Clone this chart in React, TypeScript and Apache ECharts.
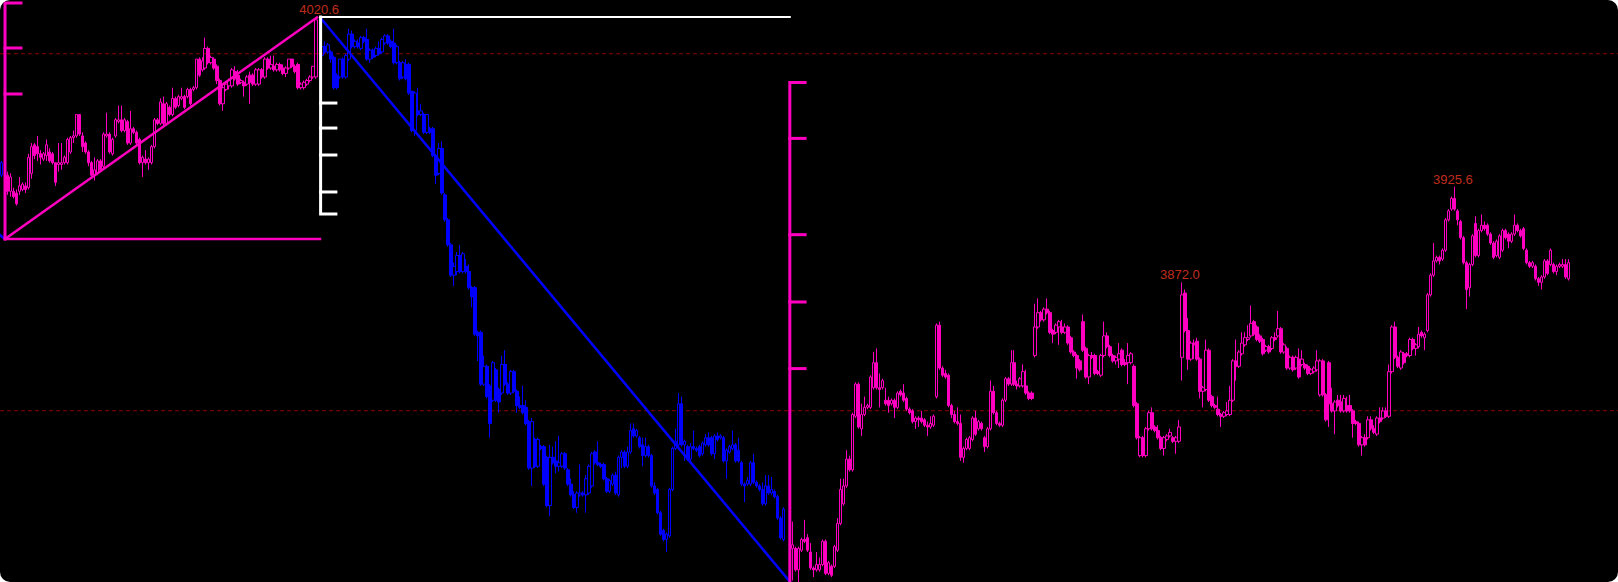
import React, { useEffect, useRef } from "react";
import * as echarts from "echarts";

// Candles are [open, close, low, high].
const tailCandles = [[3932, 3939, 3931, 3940]];

const leftCandles = [
[3932,3923,3921,3934],[3923,3931,3920,3933],[3923,3920,3919,3925],[3922,3916,3915,3924],[3923,3926,3921,3931],[3924,3927,3923,3928],[3926,3924,3922,3928],[3925,3942,3924,3944],
[3933,3948,3930,3950],[3949,3943,3941,3950],[3948,3944,3940,3954],[3944,3942,3938,3946],[3941,3944,3940,3945],[3943,3949,3940,3952],[3945,3940,3939,3947],[3944,3939,3938,3945],
[3939,3928,3926,3939],[3938,3939,3934,3950],[3938,3939,3935,3950],[3939,3942,3938,3943],[3939,3952,3938,3953],[3945,3953,3944,3954],[3953,3954,3950,3957],[3954,3966,3953,3966],
[3966,3955,3954,3966],[3954,3948,3945,3956],[3950,3945,3944,3951],[3945,3939,3937,3946],[3939,3932,3930,3940],[3932,3935,3929,3942],[3933,3940,3932,3941],[3940,3935,3934,3941],
[3937,3955,3936,3956],[3954,3955,3953,3967],[3955,3945,3944,3956],[3944,3952,3943,3953],[3954,3963,3953,3964],[3962,3963,3961,3971],[3963,3957,3956,3971],[3957,3963,3956,3964],
[3962,3950,3949,3963],[3950,3958,3949,3968],[3958,3956,3955,3959],[3956,3950,3949,3957],[3952,3939,3938,3953],[3939,3942,3931,3943],[3941,3939,3938,3946],[3939,3941,3935,3942],
[3939,3948,3938,3949],[3948,3963,3947,3964],[3963,3961,3960,3964],[3961,3973,3960,3975],[3972,3961,3960,3976],[3961,3972,3960,3973],[3970,3966,3965,3971],[3966,3975,3965,3981],
[3975,3970,3969,3976],[3971,3976,3970,3977],[3975,3976,3974,3981],[3976,3970,3969,3977],[3976,3980,3975,3981],[3980,3972,3971,3981],[3980,3981,3979,3982],[3981,3997,3980,3997],
[3997,3988,3987,3998],[3991,3996,3990,3998],[3992,4003,3991,4009],[4003,3995,3994,4004],[3995,3998,3994,3999],[3997,3992,3991,3998],[3993,3985,3983,3994],[3985,3972,3971,3986],
[3972,3981,3968,3982],[3980,3983,3979,3984],[3982,3985,3980,3986],[3982,3991,3981,3992],[3990,3986,3985,3993],[3988,3983,3982,3991],[3984,3985,3983,3986],[3984,3982,3976,3985],
[3983,3987,3982,3988],[3988,3984,3972,3990],[3988,3983,3982,3989],[3983,3991,3982,3992],[3983,3991,3982,3992],[3991,3987,3986,3992],[3987,3997,3986,3998],[3997,3992,3991,3998],
[3992,3994,3991,3999],[3993,3991,3990,3999],[3991,3994,3990,3995],[3994,3991,3990,3995],[3992,3989,3988,3994],[3989,3992,3987,3993],[3992,3997,3991,3997],[3997,3993,3992,3997],
[3993,3990,3989,3994],[3994,3981,3980,3995],[3981,3983,3980,3984],[3981,3984,3980,3985],[3983,3985,3982,3986],[3985,3987,3984,3988],[3987,3993,3986,3993],[3987,4019,3986,4020.6],
];

const blueCandles = [
[3999,4004,3999,4008],[4004,4001,4000,4007],[4001,4005,4000,4006],[4001,3997,3995,4002],[3998,3981,3980,3999],[3988,3981,3980,3989],[3987,3997,3986,3997],[3997,3987,3986,3998],
[3987,3999,3986,4000],[3997,4011,3996,4014],[4011,4004,4003,4013],[4004,4007,4003,4008],[4006,4004,4003,4008],[4003,4009,4002,4010],[4009,4007,4006,4010],[4008,3997,3996,4014],
[3997,4002,3995,4003],[4002,3998,3997,4003],[3999,4003,3998,4004],[4003,4000,3999,4007],[4001,4008,4000,4009],[4006,4010,4005,4011],[4010,4006,4005,4011],[4007,4004,4003,4008],
[4006,3995,3994,4014],[3995,4004,3994,4005],[3995,3986,3985,3996],[3987,3995,3986,3996],[3994,3986,3985,3997],[3994,3978,3977,3995],[3979,3957,3956,3979],[3957,3978,3954,3979],
[3968,3966,3965,3981],[3966,3968,3965,3972],[3966,3956,3955,3967],[3956,3966,3955,3966],[3958,3956,3955,3959],[3958,3943,3942,3959],[3943,3932,3927,3944],[3933,3947,3932,3950],
[3947,3922,3921,3951],[3921,3907,3906,3922],
[3907,3893,3892,3908],[3893,3876,3875,3894],[3876,3881,3870,3883],[3878,3887,3876,3889],[3887,3878,3877,3893],[3878,3888,3877,3889],[3881,3878,3877,3885],[3878,3869,3868,3882],
[3869,3864,3858,3870],[3869,3843,3842,3870],[3844,3842,3828,3845],[3844,3815,3814,3845],[3815,3825,3814,3831],[3825,3808,3807,3826],[3814,3793,3785,3815],[3806,3827,3805,3828],
[3823,3806,3805,3824],[3812,3805,3799,3813],[3810,3826,3809,3831],[3826,3815,3814,3834],[3815,3810,3809,3816],[3810,3822,3809,3823],[3822,3811,3810,3823],[3811,3803,3799,3812],
[3803,3802,3801,3808],[3803,3799,3798,3814],[3802,3793,3792,3806],[3794,3768,3767,3795],[3768,3794,3758,3796],[3784,3769,3768,3785],[3769,3784,3768,3785],[3780,3779,3778,3781],
[3780,3759,3758,3781],[3774,3747,3746,3775],[3747,3774,3741,3781],[3774,3771,3770,3780],[3772,3769,3765,3783],[3769,3771,3766,3786],[3769,3776,3768,3777],[3776,3768,3767,3777],
[3767,3759,3758,3768],[3759,3753,3752,3762],[3753,3746,3745,3755],[3746,3754,3743,3755],[3753,3754,3752,3770],[3754,3753,3752,3755],[3753,3762,3743,3764],[3754,3769,3753,3770],
[3758,3776,3757,3777],[3777,3771,3770,3778],[3771,3770,3769,3783],[3770,3769,3768,3771],[3770,3762,3761,3771],[3762,3755,3754,3763],[3755,3761,3754,3762],[3759,3764,3758,3765],
[3764,3754,3753,3766],[3753,3774,3752,3775],[3774,3777,3768,3778],[3777,3769,3768,3778],[3769,3777,3768,3780],[3777,3789,3776,3793],[3790,3786,3785,3793],[3786,3789,3785,3790],
[3785,3780,3779,3786],[3781,3775,3769,3785],[3775,3780,3774,3785],[3780,3775,3774,3781],[3775,3758,3757,3776],[3758,3754,3753,3760],[3756,3743,3742,3757],[3743,3731,3730,3744],
[3733,3728,3727,3734],[3728,3731,3721,3732],[3730,3756,3729,3757],[3756,3779,3755,3780],[3779,3783,3778,3790],[3781,3804,3780,3810],[3804,3781,3780,3808],[3781,3783,3772,3784],
[3780,3773,3772,3781],[3773,3780,3772,3782],[3780,3779,3778,3789],[3779,3778,3777,3780],[3780,3775,3774,3781],[3776,3782,3775,3783],[3781,3785,3780,3787],[3785,3781,3780,3788],
[3785,3776,3775,3786],[3776,3786,3773,3787],[3786,3784,3783,3788],[3785,3786,3784,3787],[3785,3772,3771,3786],[3772,3778,3762,3779],[3777,3780,3776,3781],[3779,3781,3778,3789],
[3781,3772,3771,3782],[3778,3772,3771,3785],[3771,3759,3758,3772],[3759,3758,3749,3760],[3759,3761,3758,3763],[3759,3771,3758,3772],[3771,3760,3759,3776],[3760,3758,3757,3761],
[3758,3756,3755,3759],[3756,3748,3747,3760],[3748,3758,3747,3764],[3758,3754,3753,3764],[3754,3756,3753,3763],[3755,3752,3751,3756],[3752,3740,3739,3753],[3740,3729,3728,3741],
[3728,3745,3727,3746],
];

const rightCandles = [
[3723,3725,3705,3738],[3723,3711,3710,3724],[3711,3723,3704,3724],[3722,3728,3721,3729],[3728,3727,3726,3739],[3729,3722,3721,3731],[3721,3712,3711,3726],[3712,3711,3707,3713],
[3711,3714,3710,3721],[3711,3714,3710,3718],[3714,3727,3713,3728],[3727,3709,3708,3728],[3709,3715,3708,3716],[3713,3708,3707,3714],[3713,3724,3712,3725],[3722,3737,3721,3740],
[3737,3756,3736,3762],[3748,3758,3747,3762],[3758,3773,3757,3778],[3773,3767,3766,3775],[3767,3798,3766,3799],[3797,3815,3796,3816],[3815,3791,3790,3816],[3790,3798,3786,3804],
[3798,3802,3797,3808],[3802,3803,3801,3804],[3802,3819,3801,3820],[3813,3827,3812,3833],[3827,3813,3812,3835],[3813,3812,3802,3821],[3813,3817,3812,3818],[3806,3804,3803,3813],
[3806,3803,3799,3808],[3804,3806,3803,3807],[3806,3802,3796,3807],[3802,3810,3801,3811],[3811,3809,3808,3812],[3810,3806,3805,3815],[3807,3801,3800,3808],[3801,3799,3798,3802],
[3800,3794,3793,3801],[3794,3796,3790,3797],[3796,3795,3791,3797],[3796,3794,3793,3800],[3795,3792,3791,3796],[3792,3791,3786,3794],[3791,3793,3790,3797],[3792,3797,3791,3798],
[3808,3848,3807,3849],[3848,3824,3823,3850],[3824,3820,3819,3825],[3821,3819,3818,3823],[3820,3803,3802,3821],[3803,3798,3796,3804],[3798,3794,3793,3800],[3794,3793,3792,3802],
[3793,3774,3772,3798],[3774,3779,3771,3780],[3779,3784,3778,3785],[3779,3785,3778,3786],[3784,3796,3783,3797],[3796,3787,3786,3800],[3790,3794,3789,3795],[3793,3790,3789,3794],
[3785,3780,3777,3786],[3780,3790,3779,3791],[3790,3811,3789,3817],[3811,3799,3798,3814],[3799,3793,3792,3800],[3793,3792,3791,3794],[3792,3806,3791,3807],[3806,3818,3805,3819],
[3818,3815,3814,3819],[3815,3827,3814,3834],[3827,3815,3814,3834],[3815,3814,3812,3817],[3814,3818,3813,3819],[3814,3822,3813,3826],[3814,3810,3809,3823],[3810,3807,3806,3811],
[3810,3807,3806,3811],[3831,3847,3830,3860],[3847,3855,3846,3863],[3855,3851,3850,3856],[3851,3857,3850,3858],[3857,3855,3854,3863],[3855,3844,3843,3856],[3845,3843,3838,3846],
[3844,3848,3843,3849],[3847,3850,3837,3851],[3847,3844,3843,3851],[3844,3847,3843,3849],[3847,3838,3837,3848],[3841,3833,3832,3842],[3833,3831,3830,3834],[3831,3824,3818,3832],
[3828,3823,3822,3829],[3850,3834,3833,3854],[3835,3819,3818,3836],[3819,3831,3815,3832],[3831,3830,3829,3833],[3831,3821,3820,3832],[3822,3821,3820,3823],[3820,3831,3819,3832],
[3831,3842,3830,3850],[3842,3836,3835,3844],[3836,3831,3830,3837],[3831,3828,3827,3832],[3828,3830,3826,3831],[3829,3832,3824,3838],[3834,3826,3825,3835],[3827,3826,3825,3829],
[3827,3831,3815,3838],[3827,3832,3826,3833],[3825,3803,3802,3826],[3804,3785,3784,3805],[3775,3785,3774,3786],[3785,3775,3774,3786],[3775,3790,3774,3791],[3790,3799,3789,3800],
[3799,3790,3789,3802],[3791,3789,3788,3792],[3789,3785,3784,3792],[3785,3779,3778,3786],[3779,3785,3775,3786],[3784,3786,3783,3787],[3786,3788,3785,3790],[3785,3783,3782,3786],
[3783,3785,3776,3786],[3783,3791,3782,3795],
[3830,3865,3817,3872],[3866,3845,3844,3868],[3845,3829,3823,3852],[3829,3838,3828,3839],[3838,3837,3829,3840],[3839,3829,3828,3841],[3829,3811,3807,3830],[3811,3813,3802,3814],
[3812,3834,3811,3840],[3834,3806,3805,3835],[3808,3803,3802,3809],[3803,3802,3801,3804],[3801,3798,3797,3808],[3798,3797,3791,3799],[3797,3799,3796,3800],[3798,3800,3797,3805],
[3798,3806,3797,3814],[3806,3828,3805,3829],[3828,3825,3817,3840],[3825,3833,3824,3834],[3832,3838,3831,3844],[3837,3841,3836,3844],[3840,3841,3839,3848],[3842,3849,3841,3859],
[3850,3843,3842,3851],[3847,3840,3839,3848],[3842,3839,3838,3843],[3840,3832,3831,3841],[3834,3836,3833,3837],[3836,3833,3832,3837],[3835,3841,3834,3842],[3841,3840,3839,3844],
[3842,3846,3841,3856],[3846,3833,3832,3847],[3833,3837,3832,3838],[3835,3824,3823,3836],[3824,3830,3823,3831],[3830,3823,3822,3831],[3824,3830,3823,3831],[3829,3819,3818,3835],
[3826,3829,3825,3834],[3826,3824,3823,3827],[3825,3821,3820,3826],[3821,3823,3820,3824],[3822,3824,3821,3825],[3823,3828,3822,3834],[3809,3828,3808,3829],[3828,3809,3808,3829],
[3809,3795,3794,3810],[3827,3804,3791,3828],[3804,3800,3799,3813],[3800,3805,3787,3806],[3806,3803,3802,3809],[3805,3800,3799,3809],[3800,3807,3799,3809],[3803,3800,3799,3808],
[3803,3800,3799,3809],[3800,3793,3785,3801],[3794,3793,3792,3795],[3793,3781,3780,3794],[3781,3785,3775,3786],[3785,3781,3780,3787],[3785,3795,3784,3797],[3795,3790,3789,3797],
[3790,3788,3787,3792],[3787,3796,3786,3797],[3796,3794,3793,3802],[3796,3800,3795,3802],[3800,3797,3796,3802],[3797,3822,3796,3826],[3822,3847,3821,3848],[3847,3830,3829,3850],
[3830,3825,3824,3831],[3824,3833,3823,3834],[3832,3827,3826,3833],[3832,3831,3830,3833],[3831,3840,3830,3841],[3840,3835,3834,3841],[3835,3837,3831,3838],[3836,3843,3835,3847],
[3844,3842,3841,3845],[3841,3843,3834,3844],[3845,3865,3844,3866],[3865,3876,3864,3877],[3876,3884,3875,3894],[3884,3886,3883,3887],[3886,3884,3882,3887],[3885,3890,3884,3891],
[3890,3907,3889,3908],[3907,3912,3906,3913],[3913,3919,3912,3920],[3919,3913,3912,3925.6],[3912,3907,3904,3913],[3906,3897,3896,3907],[3897,3883,3882,3898],[3883,3868,3857,3884],
[3869,3882,3864,3883],[3882,3898,3881,3899],[3905,3887,3886,3909],[3887,3901,3886,3902],[3901,3904,3900,3910],[3904,3902,3901,3906],[3904,3899,3898,3905],[3899,3894,3893,3900],
[3894,3886,3885,3895],[3887,3895,3886,3896],[3886,3898,3885,3899],[3890,3901,3889,3902],[3901,3897,3896,3902],[3899,3895,3891,3900],[3895,3899,3894,3900],[3899,3904,3898,3910],
[3904,3901,3900,3905],[3901,3898,3897,3902],[3902,3891,3890,3903],[3890,3883,3882,3891],[3883,3881,3880,3884],[3881,3883,3880,3884],[3881,3874,3873,3882],[3874,3872,3870,3875],
[3872,3875,3868,3876],[3875,3884,3874,3885],[3884,3877,3876,3885],[3882,3890,3881,3891],[3882,3878,3877,3883],[3878,3881,3876,3882],[3881,3882,3880,3883],[3881,3882,3880,3885],
[3882,3875,3874,3885],[3874,3883,3873,3885],
];

// Where each run of candles begins, counted in candles from the left edge.
const slots = 540;
const tailStart = 0;
const leftStart = 2;
const blueStart = 107;
const rightStart = 264;

const peakLabels = [
  [106.5, 4020.6],
  [393.8, 3872.0],
  [484.9, 3925.6],
];

const dashedLevels = [4000.0, 3800.1];
const priceMin = 3704.2;
const priceMax = 4030.1;

// Trend lines and scale frames: [candle position, price].
const pinkFrames = [
  [[7, 4028.4], [1.67, 4028.4], [1.67, 3896.3]],
  [[1.67, 4003.2], [7, 4003.2]],
  [[1.67, 3977.5], [7, 3977.5]],
  [[268.7, 3983.9], [263.6, 3983.9], [263.6, 3704.2]],
  [[263.6, 3952.6], [268.7, 3952.6]],
  [[263.6, 3898.7], [268.7, 3898.7]],
  [[263.6, 3861], [268.7, 3861]],
  [[263.6, 3823.7], [268.7, 3823.7]],
];
const pinkLines = [
  [[1.67, 3896.3], [106.8, 3896.3]],
  [[1.67, 3896.3], [105.8, 4020.3]],
];
const whiteFrames = [
  [[107, 4020.6], [107, 3910.3], [112.1, 3910.3]],
  [[107, 3972.4], [112.1, 3972.4]],
  [[107, 3958.4], [112.1, 3958.4]],
  [[107, 3943.3], [112.1, 3943.3]],
  [[107, 3922.6], [112.1, 3922.6]],
];
const whiteLines = [[[107, 4020.6], [263.6, 4020.6]]];
const blueLines = [
  [[107.2, 4019.6], [263.7, 3704.2]],
  [[0, 3898.5], [1.6, 3896.3]],
];

const PINK = "#ff00c0";
const BLUE = "#0000ff";

function place(runs: [number, number[][]][]) {
  const out: (number[] | string)[] = new Array(slots).fill("-");
  runs.forEach(([start, rows]) => rows.forEach((r, i) => (out[start + i] = r)));
  return out;
}

function candle(color: string, data: (number[] | string)[]) {
  return {
    type: "candlestick",
    xAxisIndex: 0,
    yAxisIndex: 0,
    barWidth: 3,
    silent: true,
    data,
    itemStyle: { color: "rgba(0,0,0,0)", color0: color, borderColor: color, borderColor0: color, borderWidth: 1 },
  };
}

function strokes(lines: number[][][], color: string, z: number, width: number) {
  return lines.map((data) => ({
    type: "line",
    xAxisIndex: 1,
    yAxisIndex: 0,
    data,
    symbol: "none",
    silent: true,
    clip: false,
    z,
    lineStyle: { color, width, join: "miter", cap: "square" },
  }));
}

export default function App() {
  const ref = useRef<HTMLDivElement>(null);
  useEffect(() => {
    document.documentElement.style.background = "#fff";
    document.documentElement.style.overflow = "hidden";
    document.body.style.margin = "0";
    const chart = echarts.init(ref.current!, null, { renderer: "svg" });
    chart.setOption({
      animation: false,
      backgroundColor: "transparent",
      grid: { left: 0, right: 0, top: 0, bottom: 0 },
      tooltip: { show: false },
      xAxis: [
        { type: "category", show: false, boundaryGap: true, data: Array.from({ length: slots }, (_, i) => String(i)) },
        { type: "value", show: false, min: 0, max: slots },
      ],
      yAxis: [{ type: "value", show: false, min: priceMin, max: priceMax, scale: true, splitLine: { show: false } }],
      series: [
        ...dashedLevels.map((level) => ({
          type: "line",
          xAxisIndex: 1,
          yAxisIndex: 0,
          data: [[0, level], [slots, level]],
          symbol: "none",
          silent: true,
          z: 1,
          lineStyle: { color: "#8b0000", width: 1, type: [4, 3] },
        })),
        candle(PINK, place([[leftStart, leftCandles], [rightStart, rightCandles]])),
        candle(BLUE, place([[tailStart, tailCandles], [blueStart, blueCandles]])),
        ...strokes(blueLines, BLUE, 4, 2.5),
        ...strokes(whiteLines, "#ffffff", 5, 2),
        ...strokes(whiteFrames, "#ffffff", 5, 3),
        ...strokes(pinkLines, PINK, 6, 2.5),
        ...strokes(pinkFrames, PINK, 6, 3),
        {
          type: "scatter",
          xAxisIndex: 1,
          yAxisIndex: 0,
          symbolSize: 0,
          silent: true,
          z: 7,
          data: peakLabels,
          label: {
            show: true,
            position: "top",
            distance: 1,
            color: "#f03a24",
            fontSize: 13,
            fontFamily: "Liberation Sans",
            formatter: (p: any) => p.value[1].toFixed(1),
          },
        },
      ],
    });
    return () => chart.dispose();
  }, []);
  return (
    <div
      ref={ref}
      style={{ width: 1618, height: 582, background: "#000", borderRadius: 10, overflow: "hidden" }}
    />
  );
}
